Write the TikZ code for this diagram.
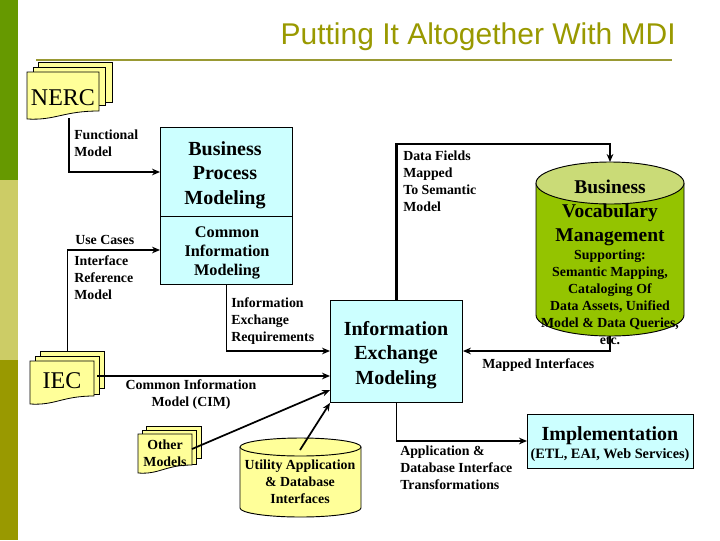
\documentclass[tikz,border=0pt]{standalone}
\usepackage{fontspec}
\setmainfont{Liberation Serif}
\newfontfamily\titlefont{Liberation Sans}
\usetikzlibrary{arrows.meta,calc}
\definecolor{boxcyan}{HTML}{CCFFFF}
\definecolor{docyellow}{HTML}{FFFF99}
\definecolor{barA}{HTML}{669900}
\definecolor{barB}{HTML}{CCCC66}
\definecolor{barC}{HTML}{999900}
\definecolor{ruleol}{HTML}{999933}
\definecolor{cylgreen}{HTML}{94C400}
\definecolor{cyltop}{HTML}{CADB77}
\newcommand{\docsheet}[4]{\filldraw[fill=docyellow,draw=black,line width=.6pt] (#1,#2) rectangle (#3,#4);}
\newcommand{\docfront}[4]{\filldraw[fill=docyellow,draw=black,line width=.6pt] (#1,#2) -- (#3,#2) -- (#3,#4-9)
  .. controls ($(#3,#4-9)!.5!(#1,#4-9)$) and ($(#3,#4-3)!.6!(#1,#4+3)$) .. (#1,#4-1) -- cycle;}
\newcommand{\cyl}[7]{% x1 x2 cy-top cy-bottom ry fillbody filltop
  \filldraw[fill=#6,draw=black,line width=.7pt] (#1,#3) -- (#1,#4) arc[start angle=180,end angle=0,x radius={(#2-#1)/2},y radius=#5] -- (#2,#3);
  \filldraw[fill=#7,draw=black,line width=.7pt] ({(#1+#2)/2},#3) ellipse[x radius={(#2-#1)/2},y radius=#5];}
\tikzset{
  x=0.75pt,y=-0.75pt,
  modelbox/.style={draw=black,fill=boxcyan,line width=.7pt,inner sep=0pt,anchor=north west},
  bighead/.style={font=\fontsize{15}{18}\selectfont\bfseries,align=center,inner sep=0pt},
  medhead/.style={font=\fontsize{12.2}{14.2}\selectfont\bfseries,align=center,inner sep=0pt},
  lab/.style={font=\fontsize{10.4}{12.75}\selectfont\bfseries,align=left,inner sep=0pt},
  labc/.style={lab,align=center},
  doclab/.style={font=\fontsize{18}{20}\selectfont,inner sep=0pt},
  thickcon/.style={line width=1.8pt,-{Stealth[length=6pt,width=5pt]}},
  midcon/.style={line width=1.3pt,-{Stealth[length=6pt,width=5pt]}},
  thincon/.style={line width=.8pt,-{Stealth[length=6pt,width=5pt]}},
}
\begin{document}
\begin{tikzpicture}
\useasboundingbox (0,0) rectangle (720,540);
\fill[white] (0,0) rectangle (720,540);
\fill[barA] (0,0) rectangle (18,180);
\fill[barB] (0,180) rectangle (18,360);
\fill[barC] (0,360) rectangle (18,540);
\draw[ruleol,line width=1.5pt] (36,59.5) -- (672,59.5);
\node[anchor=east,inner sep=0pt,font=\titlefont\fontsize{22.5}{26}\selectfont,text=barC] (title) at (676,37) {Putting It Altogether With MDI};

% NERC stack
\docsheet{38}{62}{112}{102}
\docsheet{33}{67}{105}{105}
\docfront{27}{72}{99}{120}
\node[doclab] (nerc) at (63,98) {NERC};
\coordinate (nercout) at (69,118);
% IEC stack
\docsheet{40}{351}{104}{388}
\docsheet{35}{356}{99}{394}
\docfront{30}{361}{94}{405}
\node[doclab] (iec) at (62,381) {IEC};
\coordinate (iecout) at (97,376);
\coordinate (iectop) at (67.5,351);
% Other stack
\docsheet{146}{426}{201}{458}
\docsheet{142}{430}{196}{464}
\docfront{138}{434}{192}{474}
\node[labc] (other) at (165,453) {Other\\Models};
\coordinate (otherout) at (192,449);

% boxes
\node[modelbox,minimum width=132*.75pt,minimum height=89*.75pt] (bpm) at (160,127) {};
\node[bighead] at (225,175) {Business\\[0.3pt]Process\\[0.3pt]Modeling};
\node[modelbox,minimum width=132*.75pt,minimum height=68*.75pt] (cim) at (160,216) {};
\node[medhead] at (227,252.5) {Common\\Information\\Modeling};
\node[modelbox,minimum width=132*.75pt,minimum height=102*.75pt] (iem) at (330,300) {};
\node[bighead] at (396,355) {Information\\[0.3pt]Exchange\\[0.3pt]Modeling};
\node[modelbox,minimum width=166*.75pt,minimum height=54*.75pt] (impl) at (527,414) {};
\node[font=\fontsize{15}{17}\selectfont\bfseries,inner sep=0pt] (impltxt) at (610,436) {Implementation};
\node[font=\fontsize{10.7}{12}\selectfont\bfseries,inner sep=0pt] (implsub) at (610,455) {(ETL, EAI, Web Services)};

% cylinders
\cyl{240}{361}{447}{508}{9}{docyellow}{docyellow}
\coordinate (utilout) at (300,450);
\node[labc] (util) at (300,482) {Utility Application\\\& Database\\Interfaces};
\cyl{536}{684}{183}{315}{21}{cylgreen}{cyltop}
\coordinate (bvtop) at (610,162);
\coordinate (bvbot) at (610,336);
\node[font=\fontsize{14.6}{18}\selectfont\bfseries,align=center,inner sep=0pt] (bv) at (610,213) {Business\\Vocabulary\\Management};
\node[labc] (bvsub) at (610,297) {Supporting:\\Semantic Mapping,\\Cataloging Of\\Data Assets, Unified\\Model \& Data Queries,\\etc.};

% connector labels
\node[lab,anchor=west] (l1) at (74,143.5) {Functional\\Model};
\node[lab,anchor=west] (l2) at (75,240) {Use Cases};
\node[lab,anchor=west] (l3) at (74,278) {Interface\\Reference\\Model};
\node[lab,anchor=west] (l4) at (231,321) {Information\\Exchange\\Requirements};
\node[labc] (l5) at (191,394.5) {Common Information\\Model (CIM)};
\node[lab,anchor=west] (l6) at (403,181.5) {Data Fields\\Mapped\\To Semantic\\Model};
\node[lab,anchor=west] (l7) at (482,365) {Mapped Interfaces};
\node[lab,anchor=west] (l8) at (400,468) {Application \&\\Database Interface\\Transformations};

% connectors
\draw[thickcon] (nercout) |- (bpm.west |- 0,172);
\draw[thincon] (iectop) |- (cim.west |- 0,250);
\draw[midcon] (cim.south) |- (iem.west |- 0,351);
\draw[thickcon] (iecout) -- (iem.west |- 0,376);
\draw[midcon] (otherout) -- (iem.west |- 0,390);
\draw[midcon] (utilout) -- (iem.south west);
\draw[thickcon] (iem.north) |- (610,144) -- (bvtop);
\draw[midcon] (bvbot) |- (iem.east |- 0,351);
\draw[midcon] (iem.south) |- (impl.west |- 0,441);
\end{tikzpicture}
\end{document}
